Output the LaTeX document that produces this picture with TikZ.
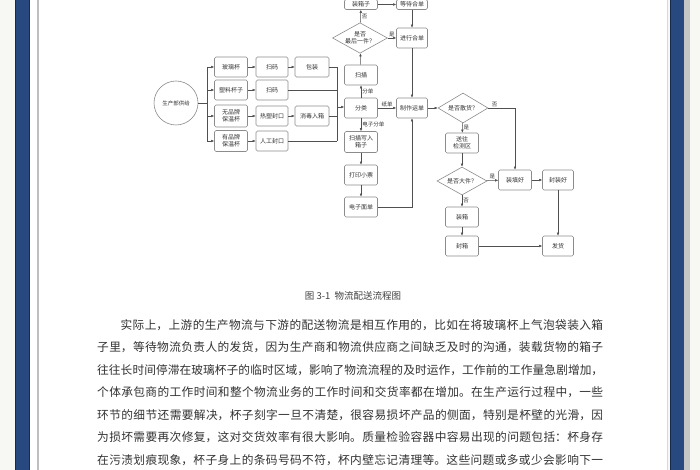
\documentclass[tikz,border=0pt]{standalone}
\usepackage{fontspec}
\setmainfont{Noto Sans CJK SC}
\usepackage{xcolor}
\usepackage{tikz}
\usetikzlibrary{arrows.meta,positioning,calc,shapes.geometric}
\XeTeXlinebreaklocale "zh"
\XeTeXlinebreakskip=0pt plus 2pt minus 0.4pt

\definecolor{barblue}{HTML}{27497F}
\definecolor{pageoff}{HTML}{F7F7F4}
\definecolor{flowgray}{HTML}{505050}
\definecolor{boxgray}{HTML}{8C8C8C}

\begin{document}
\begin{tikzpicture}[x=1pt, y=-1pt,
  every node/.style={font=\fontsize{6}{7}\selectfont, text=black!80},
  box/.style={draw=boxgray, rounded corners=1.5pt, line width=0.6pt,
    minimum width=33pt, minimum height=20pt, inner sep=1pt, align=center},
  choice/.style={draw=boxgray, diamond, aspect=1.8, line width=0.6pt,
    inner sep=0.5pt, align=center, minimum width=50pt, minimum height=28pt},
  flow/.style={draw=flowgray, line width=0.5pt, -{Latex[length=3pt,width=2.6pt]}},
  link/.style={draw=flowgray, line width=0.5pt},
  tag/.style={font=\fontsize{5.5}{6}\selectfont, inner sep=1pt}]
  \useasboundingbox (0,0) rectangle (700,470);
  \clip (0,0) rectangle (700,470);
  % Page and binder edges
  \fill[pageoff] (0,0) rectangle (700,470);
  \fill[white] (30,0) rectangle (667,470);
  \fill[barblue] (15,0) rectangle (30,470);
  \draw[barblue!60!black, line width=0.8pt] (15.4,0) -- (15.4,470);
  \draw[barblue!60!black, line width=0.8pt] (29.6,0) -- (29.6,470);
  \draw[gray!50, line width=1.2pt] (38,0) -- (38,470);
  \draw[gray!30, line width=1pt] (667.5,0) -- (667.5,470);
  \fill[barblue] (670,0) rectangle (684,470);
  \draw[barblue!60!black, line width=0.8pt] (670.4,0) -- (670.4,470);
  \fill[gray!45] (684,0) rectangle (690,470);

  % Source and cup types
  \node[draw=boxgray, circle, line width=0.6pt, minimum size=44pt, inner sep=0pt,
    font=\fontsize{5.5}{6}\selectfont] (src) at (176,103) {生产部供给};
  \node[box] (glass) at (231,67) {玻璃杯};
  \node[box] (plastic) at (231,90) {塑料杯子};
  \node[box, minimum height=22pt] (vacA) at (231,116) {无品牌\\保温杯};
  \node[box, minimum height=21pt] (vacB) at (231,141) {有品牌\\保温杯};
  \node[box, minimum width=32pt] (code1) at (272,67) {扫码};
  \node[box, minimum width=32pt] (code2) at (272,90) {扫码};
  \node[box, minimum width=32pt] (heat) at (272,116) {热塑封口};
  \node[box, minimum width=32pt] (hand) at (272,141) {人工封口};
  \node[box, minimum width=34pt] (wrap) at (312,67) {包装};
  \node[box, minimum width=34pt] (sterile) at (312,116) {消毒入箱};

  % Sorting column
  \node[box] (sort) at (361,108) {分类};
  \node[box] (scan) at (361,75) {扫描};
  \node[choice] (lastq) at (360,38) {是否\\最后一件？};
  \node[box, minimum height=10pt, inner sep=0.5pt] (boxin) at (361,4.5) {装箱子};
  \node[box, minimum width=31pt, minimum height=10pt, inner sep=0.5pt] (waitm)
    at (412,4.5) {等待合单};
  \node[box, minimum width=31pt] (domerge) at (412,38) {进行合单};
  \node[box, minimum width=31pt] (makebill) at (412,108) {制作运单};
  \node[box, minimum height=21pt] (cardin) at (361,142) {扫描写入\\箱子};
  \node[box] (ticket) at (361,175) {打印小票};
  \node[box] (ebill) at (361,207) {电子面单};

  % Checking and shipping
  \node[choice, minimum height=30pt] (bulkq) at (463,108) {是否散货？};
  \node[box] (checkz) at (462,143) {送往\\检测区};
  \node[choice] (bigq) at (462,181) {是否大件？};
  \node[box] (packin) at (462,217) {装箱};
  \node[box] (sealbox) at (462,246) {封箱};
  \node[box] (filled) at (515,180) {装填好};
  \node[box, minimum width=31pt] (sealed) at (558,180) {封装好};
  \node[box, minimum width=31pt] (ship) at (558,246) {发货};

  % Branch from source
  \coordinate (split) at (207,103);
  \draw[link] (src.east) -- (split);
  \draw[link] (split |- glass) -- (split |- vacB);
  \foreach \cup in {glass,plastic,vacA,vacB}
    \draw[flow] (split |- \cup) -- (\cup.west);
  \draw[flow] (glass) -- (code1);
  \draw[flow] (plastic) -- (code2);
  \draw[flow] (vacA) -- (heat);
  \draw[flow] (vacB) -- (hand);
  \draw[flow] (code1) -- (wrap);
  \draw[flow] (heat) -- (sterile);

  % Collect into sorting
  \coordinate (join) at (337,107);
  \draw[link] (wrap.east) -- (join |- wrap);
  \draw[link] (code2.east) -- (join |- code2);
  \draw[link] (sterile.east) -- (join |- sterile);
  \draw[link] (hand.east) -- (join |- hand);
  \draw[link] (join |- wrap) -- (join |- hand);
  \draw[flow] (join) -- (sort.west |- join);

  % Paper orders
  \draw[flow] (sort) -- (scan) node[tag, midway, right] {分单};
  \draw[flow] (scan) -- (lastq);
  \draw[flow] (lastq) -- (boxin) node[tag, midway, right] {否};
  \draw[flow] (lastq) -- (domerge) node[tag, midway, above] {是};
  \draw[flow] (boxin) -- (waitm);
  \draw[flow] (waitm) -- (domerge);
  \draw[flow] (domerge) -- (makebill);
  \draw[flow] (sort) -- (makebill) node[tag, midway, above] {纸单};

  % Electronic orders
  \draw[flow] (sort) -- (cardin) node[tag, midway, right] {电子分单};
  \draw[flow] (cardin) -- (ticket);
  \draw[flow] (ticket) -- (ebill);
  \draw[flow] (ebill.east) -| (makebill.south);

  % Checking
  \draw[flow] (makebill) -- (bulkq);
  \draw[flow] (bulkq.east) -| (filled.north) node[tag, pos=0.12, above] {否};
  \draw[flow] (bulkq) -- (checkz) node[tag, midway, right] {是};
  \draw[flow] (checkz) -- (bigq);
  \draw[flow] (bigq) -- (filled) node[tag, midway, above] {是};
  \draw[flow] (bigq) -- (packin) node[tag, midway, right] {否};
  \draw[flow] (packin) -- (sealbox);
  \draw[flow] (sealbox) -- (ship);
  \draw[flow] (filled) -- (sealed);
  \draw[flow] (sealed) -- (ship);

  % Caption and body text
  \node[font=\fontsize{9.5}{11}\selectfont, text=black!75] (cap) at (353,296)
    {图 3-1\ \ 物流配送流程图};
  \node[anchor=north west, inner sep=0pt, text width=506pt, align=justify,
    font=\fontsize{11.7}{22.5}\selectfont, text=black!80] (body) at (97,319)
    {\parfillskip=0pt
     \hspace*{2em}实际上，上游的生产物流与下游的配送物流是相互作用的，比如在将玻璃杯上气泡袋装入箱\linebreak
     子里，等待物流负责人的发货，因为生产商和物流供应商之间缺乏及时的沟通，装载货物的箱子\linebreak
     往往长时间停滞在玻璃杯子的临时区域，影响了物流流程的及时运作，工作前的工作量急剧增加，\linebreak
     个体承包商的工作时间和整个物流业务的工作时间和交货率都在增加。在生产运行过程中，一些\linebreak
     环节的细节还需要解决，杯子刻字一旦不清楚，很容易损坏产品的侧面，特别是杯壁的光滑，因\linebreak
     为损坏需要再次修复，这对交货效率有很大影响。质量检验容器中容易出现的问题包括：杯身存\linebreak
     在污渍划痕现象，杯子身上的条码号码不符，杯内壁忘记清理等。这些问题或多或少会影响下一\par};
\end{tikzpicture}
\end{document}
